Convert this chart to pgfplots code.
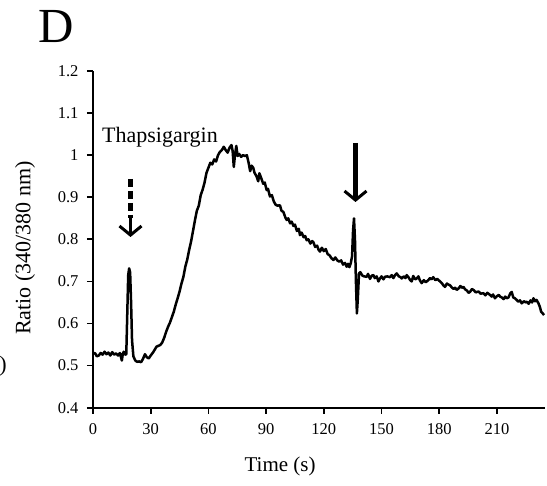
\documentclass[border=0pt]{standalone}
\usepackage{pgfplots}
\pgfplotsset{compat=1.18}
\usepackage{fontspec}
\setmainfont{Liberation Serif}
\usetikzlibrary{arrows.meta}
\begin{document}
\begin{tikzpicture}[x=1pt,y=1pt]
\useasboundingbox (0,0) rectangle (547,486);
\begin{axis}[
  at={(93pt,78.3pt)}, anchor=south west,
  scale only axis, width=452pt, height=336.7pt,
  xmin=0, xmax=235, ymin=0.4, ymax=1.2,
  axis x line*=bottom, axis y line*=left,
  axis line style={line width=1.7pt,-},
  xtick={0,30,...,210}, ytick={0.4,0.5,...,1.2},
  yticklabels={0.4,0.5,0.6,0.7,0.8,0.9,1,1.1,1.2},
  tick align=outside, major tick length=6pt,
  tick style={black,line width=1.7pt},
  /pgf/number format/assume math mode=true,
  ticklabel style={font=\fontsize{16.5}{18}\selectfont},
  xticklabel style={yshift=-6pt},
  yticklabel style={xshift=-5pt},
  xlabel={Time (s)}, ylabel={Ratio (340/380 nm)},
  xlabel style={font=\fontsize{21}{24}\selectfont, at={(axis description cs:0.414,-0.175)}, anchor=center},
  ylabel style={font=\fontsize{22}{24}\selectfont, at={(axis description cs:-0.150,0.474)}, anchor=center, rotate=0},
  clip=false,
]
\addplot[black, line width=2.5pt, line join=round] coordinates {
(0,0.528)(1,0.530)(2,0.522)(3,0.524)(4,0.530)(5,0.526)(6,0.533)(7,0.527)(8,0.531)(9,0.524)
(10,0.532)(11,0.526)(12,0.529)(13,0.524)(14,0.530)(15,0.512)(15.5,0.528)(16,0.533)(16.7,0.526)(17.3,0.527)
(17.8,0.62)(18.3,0.715)(18.8,0.731)(19.3,0.722)(19.8,0.65)(20.3,0.56)(21,0.522)(22,0.512)(23,0.509)(24,0.51)
(25,0.508)(26,0.516)(27,0.527)(28,0.52)(29,0.517)(30,0.524)(31,0.53)(32,0.537)(33,0.545)(34,0.547)
(35,0.549)(36,0.555)(37,0.566)(38,0.58)(39,0.592)(40,0.602)(41,0.615)(42,0.628)(43,0.645)(44,0.66)
(45,0.676)(46,0.695)(47,0.711)(48,0.735)(49,0.752)(50,0.775)(51,0.795)(52,0.82)(53,0.845)(54,0.868)
(55,0.88)(56,0.905)(57,0.918)(58,0.935)(59,0.958)(60,0.97)(61,0.982)(62,0.978)(63,0.99)(64,0.985)
(65,1.0)(66,1.008)(67,1.012)(68,1.02)(69,1.012)(70,1.006)(71,1.018)(72,1.024)(72.6,1.01)(73.2,0.972)
(73.8,1.0)(74.5,1.022)(75.2,0.998)(76,1.003)(77,0.996)(78,1.0)(79,0.998)(80,1.0)(81,0.98)(81.7,0.962)
(82.5,0.975)(83.3,0.97)(84,0.958)(85,0.95)(85.9,0.938)(86.5,0.957)(87.5,0.945)(88.5,0.932)(89.3,0.935)(90.3,0.917)
(91,0.92)(92,0.902)(93,0.905)(94,0.89)(95,0.882)(96,0.88)(97.2,0.881)(98,0.868)(99,0.865)(100,0.852)
(100.7,0.846)(101.5,0.85)(102.5,0.838)(103.3,0.842)(104.2,0.832)(105,0.835)(106,0.82)(107,0.825)(107.6,0.81)(108.5,0.816)
(109.5,0.805)(110.3,0.808)(111.1,0.798)(112,0.8)(113,0.79)(114,0.796)(114.6,0.793)(115.5,0.782)(116.5,0.785)(117.3,0.775)
(118,0.771)(119,0.78)(120,0.772)(121,0.777)(122,0.765)(123,0.762)(124,0.755)(125,0.751)(126,0.757)(127,0.75)
(128,0.747)(129,0.75)(130,0.74)(131,0.744)(131.9,0.735)(132.6,0.742)(133.3,0.734)(134,0.743)(134.7,0.76)(135.2,0.82)
(135.7,0.85)(136.2,0.80)(136.7,0.70)(137.2,0.624)(137.7,0.66)(138.3,0.719)(139,0.722)(140,0.714)(141,0.712)(142.3,0.711)
(143,0.718)(144,0.706)(145,0.714)(145.8,0.715)(146.5,0.708)(147.5,0.712)(148.4,0.70)(149.2,0.707)(150,0.712)(151,0.705)
(151.8,0.711)(153,0.712)(154.4,0.71)(155.3,0.715)(156.2,0.708)(157,0.715)(157.9,0.719)(159,0.712)(160,0.71)(160.5,0.707)
(161.5,0.712)(162.5,0.708)(163.1,0.715)(164,0.71)(164.8,0.704)(165.7,0.70)(166.5,0.713)(167.5,0.705)(168.3,0.707)(169.2,0.712)
(170,0.702)(170.9,0.696)(172,0.703)(173,0.698)(174.3,0.703)(175.2,0.708)(176,0.705)(176.9,0.71)(178,0.703)(179,0.706)
(180.4,0.70)(181.5,0.695)(182.3,0.69)(183,0.687)(184,0.695)(185,0.692)(185.6,0.691)(186.5,0.686)(187.5,0.682)(188.3,0.685)
(189.1,0.68)(190,0.683)(191,0.689)(191.8,0.685)(192.6,0.687)(193.5,0.681)(194.5,0.678)(195.2,0.673)(196,0.675)(197,0.682)
(198,0.679)(199,0.674)(199.5,0.675)(200.5,0.676)(201.5,0.671)(203,0.672)(204,0.667)(205,0.673)(206.4,0.668)(207.3,0.664)
(208,0.669)(209,0.66)(210,0.665)(211,0.668)(211.6,0.664)(212.5,0.662)(213.5,0.658)(214.3,0.664)(215.1,0.66)(216,0.662)
(217,0.672)(217.7,0.675)(218.5,0.662)(219.3,0.66)(220.3,0.656)(221,0.652)(222,0.655)(222.9,0.648)(224,0.653)(225,0.65)
(225.5,0.652)(226.5,0.647)(227.5,0.655)(228.3,0.65)(229,0.66)(229.8,0.653)(230.6,0.656)(231.6,0.648)(232.3,0.64)(233,0.628)
(233.8,0.624)(234.5,0.62)
};
\end{axis}
\node[font=\fontsize{49}{50}\selectfont] at (56,459) {D};
\node[font=\fontsize{22}{24}\selectfont] at (160,349) {Thapsigargin};
\node[font=\fontsize{22}{24}\selectfont] at (3,120) {)};
\draw[line width=4.5pt, dash pattern=on 8pt off 4pt] (130.5,307) -- (130.5,268);
\draw[line width=3pt, -{Straight Barb[length=9pt,width=22pt,line width=3pt]}] (130.5,268) -- (130.5,249);
\draw[line width=4.5pt, -{Straight Barb[length=9pt,width=22pt,line width=3pt]}] (355.5,343) -- (355.5,284);
\end{tikzpicture}
\end{document}
